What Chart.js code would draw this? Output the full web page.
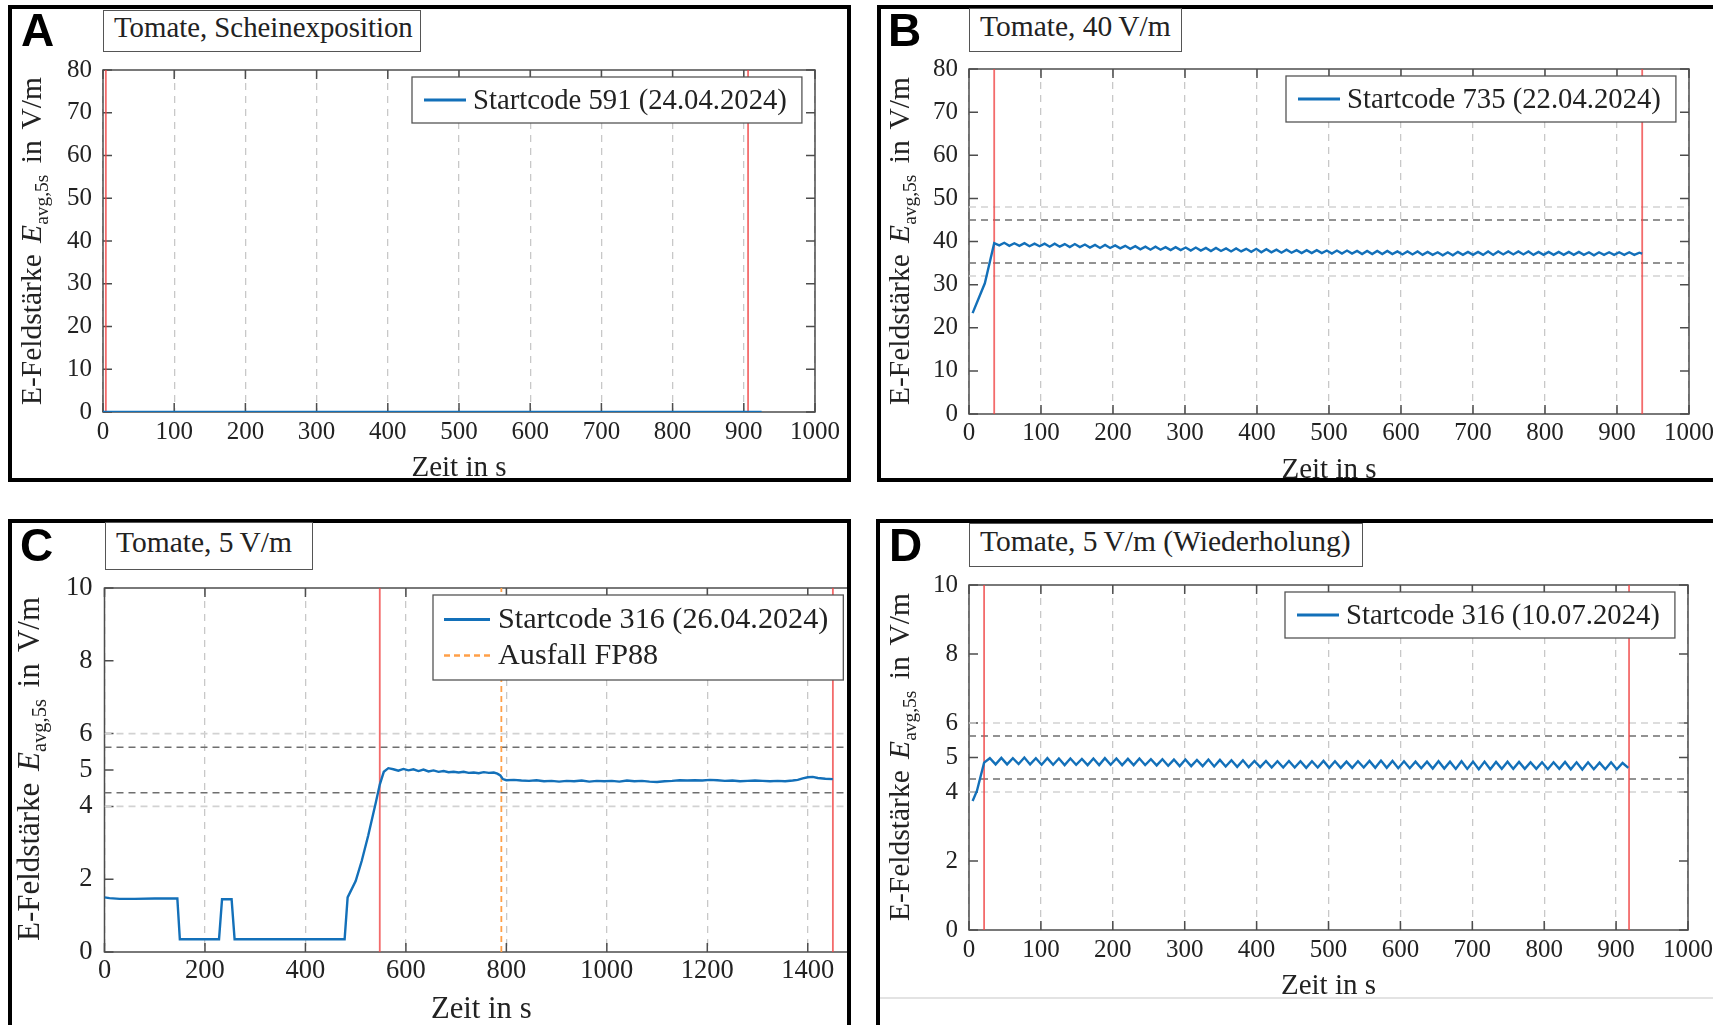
<!DOCTYPE html>
<html>
<head>
<meta charset="utf-8">
<title>Tomate E-Feldstärke</title>
<script src="https://cdn.jsdelivr.net/npm/chart.js@4.4.1/dist/chart.umd.min.js"></script>
<style>
  html, body { margin: 0; padding: 0; background: #fff; }
  body { position: relative; width: 1713px; height: 1025px; overflow: hidden; font-family: "Liberation Serif", "Times New Roman", serif; color: #222; }
  .wrap { position: absolute; overflow: hidden; z-index: 1; }
  .wrap canvas { position: absolute; left: 0; top: 0; }
  .panel { position: absolute; border: 4px solid #000; box-sizing: border-box; z-index: 3; pointer-events: none; }
  .letter { position: absolute; font: bold 46px/1 "Liberation Sans", Arial, sans-serif; color: #000; z-index: 4; }
  .titlebox { position: absolute; box-sizing: border-box; border: 1.3px solid #555; background: #fff; padding-left: 10px; font-size: 29.5px; white-space: nowrap; z-index: 4; }
  .ylabel { position: absolute; white-space: nowrap; font-size: 29.5px; word-spacing: 4px; transform: translate(-50%, -50%) rotate(-90deg); z-index: 4; }
  .ylabel sub { font-size: 0.66em; vertical-align: -0.32em; word-spacing: 0; }
  .sep { position: absolute; background: #e3e3e3; z-index: 2; }
</style>
</head>
<body>

<div class="wrap" style="left:0;top:0;width:860px;height:500px"><canvas id="chartA" width="860" height="500"></canvas></div>
<div class="wrap" style="left:860px;top:0;width:853px;height:500px"><canvas id="chartB" width="900" height="500"></canvas></div>
<div class="wrap" style="left:0;top:500px;width:851px;height:525px"><canvas id="chartC" width="900" height="560"></canvas></div>
<div class="wrap" style="left:860px;top:500px;width:853px;height:525px"><canvas id="chartD" width="900" height="560"></canvas></div>

<div class="panel" style="left:8px;top:5px;width:843px;height:477px"></div>
<div class="panel" style="left:877px;top:5px;width:900px;height:477px"></div>
<div class="panel" style="left:8px;top:519px;width:843px;height:600px"></div>
<div class="panel" style="left:876px;top:519px;width:900px;height:600px"></div>
<div class="sep" style="left:880px;top:997px;width:840px;height:2px"></div>

<div class="letter" style="left:21px;top:7px">A</div>
<div class="letter" style="left:888px;top:7px">B</div>
<div class="letter" style="left:20px;top:522px">C</div>
<div class="letter" style="left:889px;top:522px">D</div>

<div class="titlebox" style="left:103px;top:10px;width:318px;height:42px;line-height:32px;font-size:28.8px">Tomate, Scheinexposition</div>
<div class="titlebox" style="left:969px;top:8px;width:213px;height:44px;line-height:35px">Tomate, 40&#8201;V/m</div>
<div class="titlebox" style="left:105px;top:522px;width:208px;height:48px;line-height:39px">Tomate, 5&#8201;V/m</div>
<div class="titlebox" style="left:969px;top:523px;width:394px;height:44px;line-height:35px">Tomate, 5&#8201;V/m (Wiederholung)</div>

<div class="ylabel" style="left:34px;top:241px">E-Feldstärke <i>E</i><sub>avg,5s</sub> in V/m</div>
<div class="ylabel" style="left:902px;top:241px">E-Feldstärke <i>E</i><sub>avg,5s</sub> in V/m</div>
<div class="ylabel" style="left:31px;top:769px;font-size:31px">E-Feldstärke <i>E</i><sub>avg,5s</sub> in V/m</div>
<div class="ylabel" style="left:902px;top:757px">E-Feldstärke <i>E</i><sub>avg,5s</sub> in V/m</div>

<script>
// Achsenteilung
const ticksX1000 = [0, 100, 200, 300, 400, 500, 600, 700, 800, 900, 1000];
const ticksY80 = [0, 10, 20, 30, 40, 50, 60, 70, 80];
const ticksX1500 = [0, 200, 400, 600, 800, 1000, 1200, 1400];
const ticksY10 = [0, 2, 4, 5, 6, 8, 10];

// A: Scheinexposition, Startcode 591
const timeA = [0, 925];
const valA = [0, 0];
const marksA = [4, 906];

// B: 40 V/m, Startcode 735
const timeB = [5, 22,
  35, 42, 49, 56, 63, 70, 77, 84, 91, 98,
  105, 112, 119, 126, 133, 140, 147, 154, 161, 168,
  175, 182, 189, 196, 203, 210, 217, 224, 231, 238,
  245, 252, 259, 266, 273, 280, 287, 294, 301, 308,
  315, 322, 329, 336, 343, 350, 357, 364, 371, 378,
  385, 392, 399, 406, 413, 420, 427, 434, 441, 448,
  455, 462, 469, 476, 483, 490, 497, 504, 511, 518,
  525, 532, 539, 546, 553, 560, 567, 574, 581, 588,
  595, 602, 609, 616, 623, 630, 637, 644, 651, 658,
  665, 672, 679, 686, 693, 700, 707, 714, 721, 728,
  735, 742, 749, 756, 763, 770, 777, 784, 791, 798,
  805, 812, 819, 826, 833, 840, 847, 854, 861, 868,
  875, 882, 889, 896, 903, 910, 917, 924, 931, 935];
const valB = [23.4, 30.3,
  39.6, 39.1, 39.7, 39.0, 39.6, 39.0, 39.6, 38.9, 39.5, 38.9,
  39.5, 38.8, 39.5, 38.8, 39.4, 38.7, 39.4, 38.7, 39.3, 38.6,
  39.2, 38.5, 39.2, 38.5, 39.1, 38.4, 39.0, 38.3, 38.9, 38.2,
  38.8, 38.1, 38.8, 38.1, 38.7, 38.0, 38.7, 38.0, 38.6, 37.9,
  38.6, 37.9, 38.5, 37.8, 38.5, 37.8, 38.4, 37.7, 38.4, 37.7,
  38.3, 37.6, 38.3, 37.5, 38.2, 37.5, 38.1, 37.4, 38.1, 37.4,
  38.0, 37.3, 38.0, 37.3, 38.0, 37.3, 37.9, 37.2, 37.9, 37.2,
  37.9, 37.2, 37.8, 37.1, 37.8, 37.1, 37.8, 37.1, 37.8, 37.1,
  37.7, 37.0, 37.7, 37.0, 37.7, 36.9, 37.6, 36.9, 37.5, 36.8,
  37.5, 36.8, 37.6, 36.9, 37.6, 36.9, 37.6, 36.9, 37.7, 36.9,
  37.7, 37.0, 37.7, 37.0, 37.7, 37.0, 37.7, 36.9, 37.6, 36.9,
  37.6, 36.9, 37.6, 36.9, 37.6, 36.9, 37.6, 36.9, 37.5, 36.8,
  37.5, 36.9, 37.5, 36.9, 37.5, 36.9, 37.5, 36.9, 37.4, 37.2];
const marksB = [35, 935];
const innerB = [45, 35];
const outerB = [48, 32];

// C: 5 V/m, Startcode 316 (26.04.2024)
const timeC = [0, 10, 30, 60, 100, 145, 150, 228, 234, 253, 259, 478, 484,
  500, 512, 525, 540, 548, 556, 565,
  575, 585, 595, 605, 615, 625, 635, 645, 655, 665, 675, 685, 695, 705, 715, 725, 735, 745, 755, 765, 775,
  782, 788, 793, 800,
  815, 830, 845, 860, 875, 890, 905, 920, 935, 950, 965, 980, 995, 1010, 1025, 1040, 1055, 1070, 1085,
  1100, 1115, 1130, 1145, 1160, 1175, 1190, 1205, 1220, 1235, 1250, 1265, 1280, 1295, 1310, 1325, 1340, 1355, 1370,
  1380, 1390, 1400, 1410, 1420, 1435, 1450];
const valC = [1.50, 1.48, 1.46, 1.46, 1.47, 1.47, 0.35, 0.35, 1.45, 1.45, 0.35, 0.35, 1.50,
  1.95, 2.50, 3.20, 4.10, 4.60, 4.95, 5.05,
  5.02, 4.98, 5.03, 4.99, 5.02, 4.97, 5.01, 4.96, 4.99, 4.95, 4.97, 4.94, 4.95, 4.93, 4.95, 4.92, 4.93, 4.91, 4.94, 4.92, 4.93,
  4.90, 4.85, 4.75, 4.72,
  4.73, 4.71, 4.70, 4.72, 4.69, 4.70, 4.68, 4.70, 4.69, 4.71, 4.68, 4.70, 4.69, 4.70, 4.68, 4.71, 4.69, 4.70, 4.68,
  4.67, 4.69, 4.70, 4.72, 4.71, 4.72, 4.71, 4.73, 4.72, 4.70, 4.71, 4.69, 4.70, 4.71, 4.70, 4.69, 4.70, 4.69, 4.71,
  4.73, 4.77, 4.80, 4.81, 4.78, 4.76, 4.75];
const marksC = [548, 1450];
const failC = [790];
const innerC = [5.625, 4.375];
const outerC = [6, 4];

// D: 5 V/m Wiederholung, Startcode 316 (10.07.2024)
const timeD = [5, 11,
  21, 29, 37, 45, 53, 61, 69, 77, 85, 93,
  101, 109, 117, 125, 133, 141, 149, 157, 165, 173,
  181, 189, 197, 205, 213, 221, 229, 237, 245, 253,
  261, 269, 277, 285, 293, 301, 309, 317, 325, 333,
  341, 349, 357, 365, 373, 381, 389, 397, 405, 413,
  421, 429, 437, 445, 453, 461, 469, 477, 485, 493,
  501, 509, 517, 525, 533, 541, 549, 557, 565, 573,
  581, 589, 597, 605, 613, 621, 629, 637, 645, 653,
  661, 669, 677, 685, 693, 701, 709, 717, 725, 733,
  741, 749, 757, 765, 773, 781, 789, 797, 805, 813,
  821, 829, 837, 845, 853, 861, 869, 877, 885, 893,
  901, 909, 917];
const valD = [3.74, 4.03,
  4.85, 4.98, 4.80, 4.99, 4.80, 4.98, 4.81, 5.00, 4.80, 4.98,
  4.79, 4.98, 4.79, 4.97, 4.78, 4.97, 4.79, 4.96, 4.78, 4.97,
  4.78, 4.98, 4.79, 4.97, 4.78, 4.96, 4.78, 4.97, 4.78, 4.95,
  4.77, 4.95, 4.76, 4.94, 4.75, 4.94, 4.75, 4.93, 4.75, 4.94,
  4.74, 4.93, 4.74, 4.92, 4.73, 4.92, 4.72, 4.90, 4.72, 4.90,
  4.71, 4.89, 4.71, 4.90, 4.71, 4.89, 4.70, 4.89, 4.71, 4.90,
  4.70, 4.89, 4.70, 4.88, 4.70, 4.89, 4.71, 4.90, 4.70, 4.91,
  4.70, 4.90, 4.69, 4.89, 4.69, 4.88, 4.69, 4.88, 4.68, 4.89,
  4.68, 4.88, 4.67, 4.89, 4.67, 4.88, 4.66, 4.88, 4.66, 4.87,
  4.67, 4.88, 4.67, 4.87, 4.67, 4.86, 4.67, 4.86, 4.66, 4.86,
  4.67, 4.87, 4.66, 4.86, 4.65, 4.86, 4.66, 4.85, 4.66, 4.86,
  4.66, 4.84, 4.70];
const marksD = [21, 918];
const innerD = [5.625, 4.375];
const outerD = [6, 4];

const BLUE = '#1370b9';
const RED = 'rgba(240, 70, 70, 0.8)';
const ORANGE = '#ffa048';
const DARK_LIMIT = '#6f6f6f';
const LIGHT_LIMIT = '#d2d2d2';
const GRID = '#c8c8c8';
const FRAME = '#4d4d4d';
const TEXT = '#222';
const FONT = 'Liberation Serif';

// Rahmen mit Ticks nach innen (wie pgfplots)
const framePlugin = {
  id: 'frame',
  beforeDatasetsDraw(chart) {
    const { ctx, chartArea: a, scales: { x, y } } = chart;
    ctx.save();
    ctx.strokeStyle = FRAME;
    ctx.lineWidth = 1.5;
    ctx.beginPath();
    x.ticks.forEach(t => {
      const px = x.getPixelForValue(t.value);
      ctx.moveTo(px, a.bottom); ctx.lineTo(px, a.bottom - 9);
      ctx.moveTo(px, a.top); ctx.lineTo(px, a.top + 9);
    });
    y.ticks.forEach(t => {
      const py = y.getPixelForValue(t.value);
      ctx.moveTo(a.left, py); ctx.lineTo(a.left + 9, py);
      ctx.moveTo(a.right, py); ctx.lineTo(a.right - 9, py);
    });
    ctx.stroke();
    ctx.strokeRect(a.left, a.top, a.right - a.left, a.bottom - a.top);
    ctx.restore();
  }
};

// Legende als Kasten oben rechts im Plotbereich
const legendPlugin = {
  id: 'boxLegend',
  afterDatasetsDraw(chart, args, o) {
    const items = chart.data.datasets.filter(d => d.legendText);
    if (!items.length) return;
    const { ctx, chartArea: a } = chart;
    ctx.save();
    ctx.font = o.size + 'px "' + FONT + '"';
    const textW = Math.max(...items.map(d => ctx.measureText(d.legendText).width));
    const w = o.padL + o.lineLen + o.gap + textW + o.padR;
    const h = items.length * o.rowH + 2 * o.padV;
    const x0 = Math.round(a.right - o.right - w);
    const y0 = Math.round(a.top + o.top);
    ctx.fillStyle = '#fff';
    ctx.fillRect(x0, y0, w, h);
    ctx.strokeStyle = '#555';
    ctx.lineWidth = 1.3;
    ctx.strokeRect(x0, y0, w, h);
    items.forEach((d, i) => {
      const cy = y0 + o.padV + o.rowH * (i + 0.5);
      ctx.beginPath();
      ctx.setLineDash(d.borderDash || []);
      ctx.strokeStyle = d.borderColor;
      ctx.lineWidth = d.borderWidth + 0.6;
      ctx.moveTo(x0 + o.padL, cy);
      ctx.lineTo(x0 + o.padL + o.lineLen, cy);
      ctx.stroke();
      ctx.setLineDash([]);
      ctx.fillStyle = TEXT;
      ctx.textBaseline = 'middle';
      ctx.fillText(d.legendText, x0 + o.padL + o.lineLen + o.gap, cy + 1);
    });
    ctx.restore();
  }
};

function plotPanel(id, p) {
  const sets = [];
  sets.push({
    data: p.time.map((t, i) => ({ x: t, y: p.values[i] })),
    borderColor: BLUE, borderWidth: 2.4, legendText: p.label, order: 0
  });
  (p.outer || []).forEach(v => sets.push({
    data: [{ x: p.xMin, y: v }, { x: p.xMax, y: v }],
    borderColor: LIGHT_LIMIT, borderWidth: 1.6, borderDash: [7, 5], order: 5
  }));
  (p.inner || []).forEach(v => sets.push({
    data: [{ x: p.xMin, y: v }, { x: p.xMax, y: v }],
    borderColor: DARK_LIMIT, borderWidth: 1.6, borderDash: [7, 5], order: 4
  }));
  p.marks.forEach(m => sets.push({
    data: [{ x: m, y: p.yMin }, { x: m, y: p.yMax }],
    borderColor: RED, borderWidth: 1.8, order: 3
  }));
  (p.fail || []).forEach((m, i) => sets.push({
    data: [{ x: m, y: p.yMin }, { x: m, y: p.yMax }],
    borderColor: ORANGE, borderWidth: 1.8, borderDash: [6, 4], order: 2,
    legendText: i === 0 ? 'Ausfall FP88' : undefined
  }));

  const cv = document.getElementById(id);
  const a = p.area;
  const fs = p.fs || 1;
  new Chart(cv, {
    type: 'line',
    data: { datasets: sets },
    options: {
      responsive: false,
      animation: false,
      devicePixelRatio: 1,
      elements: { point: { radius: 0 }, line: { tension: 0, fill: false } },
      layout: { padding: { left: 0, top: a.top, right: cv.width - a.right, bottom: cv.height - a.bottom - p.xh } },
      scales: {
        x: {
          type: 'linear', min: p.xMin, max: p.xMax,
          afterBuildTicks: s => { s.ticks = p.xTicks.map(v => ({ value: v })); },
          afterFit: s => { s.height = p.xh; },
          grid: { color: GRID, lineWidth: 1.3, drawTicks: false },
          border: { display: false, dash: [7, 6] },
          ticks: {
            color: TEXT, padding: p.xPad, maxRotation: 0, autoSkip: false,
            font: { family: FONT, size: 25 * fs },
            callback: v => String(v)
          },
          title: { display: true, text: 'Zeit in s', color: TEXT, padding: 0, font: { family: FONT, size: 29 * fs } }
        },
        y: {
          type: 'linear', min: p.yMin, max: p.yMax,
          afterBuildTicks: s => { s.ticks = p.yTicks.map(v => ({ value: v })); },
          afterFit: s => { s.width = a.left; },
          grid: { display: false, drawTicks: false },
          border: { display: false },
          ticks: {
            color: TEXT, padding: p.yPad,
            font: { family: FONT, size: 25 * fs },
            callback: v => String(v)
          }
        }
      },
      plugins: {
        legend: { display: false },
        tooltip: { enabled: false },
        boxLegend: p.legend
      }
    },
    plugins: [framePlugin, legendPlugin]
  });
}

const legendStd = { right: 13, top: 7, size: 28.7, rowH: 35, padV: 5.5, padL: 12, lineLen: 42, gap: 7, padR: 15 };

plotPanel('chartA', {
  time: timeA, values: valA, label: 'Startcode 591 (24.04.2024)',
  marks: marksA, xMin: 0, xMax: 1000, yMin: 0, yMax: 80,
  xTicks: ticksX1000, yTicks: ticksY80,
  area: { left: 103, top: 70, right: 815, bottom: 412 }, xh: 73.4, xPad: 5, yPad: 11,
  legend: legendStd
});

plotPanel('chartB', {
  time: timeB, values: valB, label: 'Startcode 735 (22.04.2024)',
  marks: marksB, inner: innerB, outer: outerB, xMin: 0, xMax: 1000, yMin: 0, yMax: 80,
  xTicks: ticksX1000, yTicks: ticksY80,
  area: { left: 109, top: 69, right: 829, bottom: 414 }, xh: 73.4, xPad: 4, yPad: 11,
  legend: legendStd
});

plotPanel('chartC', {
  time: timeC, values: valC, label: 'Startcode 316 (26.04.2024)',
  marks: marksC, fail: failC, inner: innerC, outer: outerC, xMin: 0, xMax: 1500, yMin: 0, yMax: 10,
  xTicks: ticksX1500, yTicks: ticksY10,
  area: { left: 104.5, top: 88, right: 858, bottom: 452 }, xh: 75.9, xPad: 3, yPad: 12, fs: 1.06,
  legend: { right: 15, top: 7, size: 30.2, rowH: 36, padV: 6.5, padL: 11, lineLen: 46, gap: 8, padR: 15 }
});

plotPanel('chartD', {
  time: timeD, values: valD, label: 'Startcode 316 (10.07.2024)',
  marks: marksD, inner: innerD, outer: outerD, xMin: 0, xMax: 1000, yMin: 0, yMax: 10,
  xTicks: ticksX1000, yTicks: ticksY10,
  area: { left: 109, top: 85, right: 828, bottom: 430 }, xh: 73.4, xPad: 5, yPad: 11,
  legend: legendStd
});
</script>
</body>
</html>
